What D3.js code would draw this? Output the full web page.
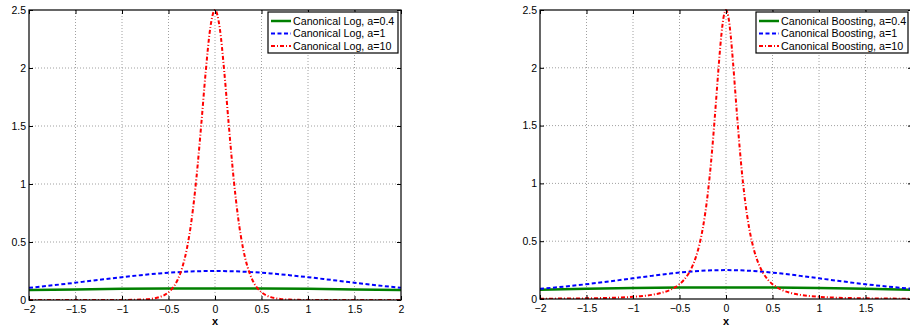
<!DOCTYPE html>
<html>
<head>
<meta charset="utf-8">
<script src="https://cdn.jsdelivr.net/npm/d3@7/dist/d3.min.js"></script>
<style>
body { margin: 0; background: #fff; }
svg { display: block; font-family: "Liberation Sans", Arial, sans-serif; }
.tick text { font-size: 10.5px; fill: #000; }
.tick line { stroke: #000; }
</style>
</head>
<body>
<div id="chart"></div>
<script>
// values
var xTicks = [-2, -1.5, -1, -0.5, 0, 0.5, 1, 1.5, 2];
var yTicks = [0, 0.5, 1, 1.5, 2, 2.5];

var smallX = [-2, -1.5, -1, -0.5, 0, 0.5, 1, 1.5, 2];
var midX = [-2, -1.8, -1.6, -1.4, -1.2, -1, -0.8, -0.6, -0.4, -0.2, 0, 0.2, 0.4, 0.6, 0.8, 1, 1.2, 1.4, 1.6, 1.8, 2];

var logGreen = [0.0856, 0.0915, 0.0961, 0.0990, 0.1, 0.0990, 0.0961, 0.0915, 0.0856];
var logBlue = [0.1050, 0.1217, 0.1398, 0.1587, 0.1779, 0.1966, 0.2139, 0.2288, 0.2403, 0.2475, 0.25,
    0.2475, 0.2403, 0.2288, 0.2139, 0.1966, 0.1779, 0.1587, 0.1398, 0.1217, 0.1050];
var logRedX = [-2, -1.5, -1.2, -1, -0.9, -0.8, -0.7, -0.6, -0.55, -0.5, -0.45, -0.4, -0.35, -0.3, -0.25, -0.2, -0.15, -0.1, -0.05, 0,
    0.05, 0.1, 0.15, 0.2, 0.25, 0.3, 0.35, 0.4, 0.45, 0.5, 0.55, 0.6, 0.7, 0.8, 0.9, 1, 1.2, 1.5, 2];
var logRed = [0, 0, 0.0001, 0.0005, 0.0012, 0.0034, 0.0091, 0.0247, 0.0405, 0.0665, 0.1087, 0.1766, 0.2845, 0.4518, 0.7010, 1.0500, 1.4915, 1.9660, 2.3500, 2.5,
    2.3500, 1.9660, 1.4915, 1.0500, 0.7010, 0.4518, 0.2845, 0.1766, 0.1087, 0.0665, 0.0405, 0.0247, 0.0091, 0.0034, 0.0012, 0.0005, 0.0001, 0, 0];

var boostGreen = [0.0800, 0.0879, 0.0943, 0.0985, 0.1, 0.0985, 0.0943, 0.0879, 0.0800];
var boostBlue = [0.0884, 0.1027, 0.1190, 0.1375, 0.1576, 0.1789, 0.2001, 0.2197, 0.2357, 0.2463, 0.25,
    0.2463, 0.2357, 0.2197, 0.2001, 0.1789, 0.1576, 0.1375, 0.1190, 0.1027, 0.0884];
var boostRedX = [-2, -1.8, -1.6, -1.4, -1.2, -1, -0.9, -0.8, -0.7, -0.6, -0.5, -0.45, -0.4, -0.35, -0.3, -0.25, -0.2,
    -0.175, -0.15, -0.125, -0.1, -0.075, -0.05, -0.025, 0, 0.025, 0.05, 0.075, 0.1, 0.125, 0.15, 0.175,
    0.2, 0.25, 0.3, 0.35, 0.4, 0.45, 0.5, 0.6, 0.7, 0.8, 0.9, 1, 1.2, 1.4, 1.6, 1.8, 2];
var boostRed = [0.0025, 0.0034, 0.0048, 0.0069, 0.0111, 0.0189, 0.0255, 0.0357, 0.0518, 0.0791, 0.1281, 0.1675, 0.2236, 0.3053, 0.4267, 0.6095, 0.8839,
    1.0656, 1.2800, 1.5245, 1.7889, 2.0522, 2.2827, 2.4425, 2.5, 2.4425, 2.2827, 2.0522, 1.7889, 1.5245, 1.2800, 1.0656,
    0.8839, 0.6095, 0.4267, 0.3053, 0.2236, 0.1675, 0.1281, 0.0791, 0.0518, 0.0357, 0.0255, 0.0189, 0.0111, 0.0069, 0.0048, 0.0034, 0.0025];

var logLabels = ["Canonical Log, a=0.4", "Canonical Log, a=1", "Canonical Log, a=10"];
var boostLabels = ["Canonical Boosting, a=0.4", "Canonical Boosting, a=1", "Canonical Boosting, a=10"];

var styles = [
    {color: "#008000", width: 2.5, dash: null},
    {color: "#0000ff", width: 2, dash: "4,2.5"},
    {color: "#ff0000", width: 2, dash: "4,2,1,2"}
];

var svg = d3.select("#chart").append("svg")
    .attr("width", 910)
    .attr("height", 328);

var drawPanel = function(id, box, series, labels, legendBox, xLabelTicks) {
    var x = d3.scaleLinear().domain([-2, 2]).range([box.left, box.right]);
    var y = d3.scaleLinear().domain([0, 2.5]).range([box.bottom, box.top]);
    var fmt = d3.format("~g");

    var g = svg.append("g").attr("id", id);

    // dotted grid
    g.append("g").selectAll("line").data(xTicks.slice(1, -1)).enter().append("line")
        .attr("x1", function(d) { return x(d); }).attr("x2", function(d) { return x(d); })
        .attr("y1", box.top).attr("y2", box.bottom)
        .attr("stroke", "#a0a0a0").attr("stroke-dasharray", "1,2").attr("stroke-width", 1);
    g.append("g").selectAll("line").data(yTicks.slice(1, -1)).enter().append("line")
        .attr("y1", function(d) { return y(d); }).attr("y2", function(d) { return y(d); })
        .attr("x1", box.left).attr("x2", box.right)
        .attr("stroke", "#a0a0a0").attr("stroke-dasharray", "1,2").attr("stroke-width", 1);

    var clipId = id + "-clip";
    g.append("clipPath").attr("id", clipId).append("rect")
        .attr("x", box.left).attr("y", box.top - 1)
        .attr("width", box.right - box.left).attr("height", box.bottom - box.top + 1);

    var line = d3.line()
        .x(function(d) { return x(d[0]); })
        .y(function(d) { return y(d[1]); })
        .curve(d3.curveMonotoneX);

    var lines = g.append("g").attr("clip-path", "url(#" + clipId + ")");
    series.forEach(function(s, i) {
        lines.append("path")
            .attr("d", line(d3.zip(s.x, s.y)))
            .attr("fill", "none")
            .attr("stroke", styles[i].color)
            .attr("stroke-width", styles[i].width)
            .attr("stroke-dasharray", styles[i].dash);
    });

    // axes with inward ticks
    g.append("g").attr("transform", "translate(0," + box.bottom + ")")
        .call(d3.axisBottom(x).tickValues(xTicks).tickSize(-4).tickPadding(6)
            .tickFormat(function(d) { return xLabelTicks.indexOf(d) >= 0 ? fmt(d) : ""; }))
        .call(function(a) { a.select(".domain").remove(); });
    g.append("g").attr("transform", "translate(0," + box.top + ")")
        .call(d3.axisTop(x).tickValues(xTicks).tickSize(-4).tickFormat(""))
        .call(function(a) { a.select(".domain").remove(); });
    g.append("g").attr("transform", "translate(" + box.left + ",0)")
        .call(d3.axisLeft(y).tickValues(yTicks).tickSize(-4).tickPadding(3).tickFormat(fmt))
        .call(function(a) { a.select(".domain").remove(); });
    g.append("g").attr("transform", "translate(" + box.right + ",0)")
        .call(d3.axisRight(y).tickValues(yTicks).tickSize(-4).tickFormat(""))
        .call(function(a) { a.select(".domain").remove(); });
    g.selectAll(".tick text").attr("font-family", null).attr("font-size", null);

    g.append("rect")
        .attr("x", box.left).attr("y", box.top)
        .attr("width", box.right - box.left).attr("height", box.bottom - box.top)
        .attr("fill", "none").attr("stroke", "#000").attr("stroke-width", 1.2);

    g.append("text")
        .attr("x", x(0)).attr("y", 325)
        .attr("text-anchor", "middle")
        .attr("font-size", "11px").attr("font-weight", "bold")
        .text("x");

    // legend
    var lg = g.append("g");
    lg.append("rect")
        .attr("x", legendBox.x).attr("y", legendBox.y)
        .attr("width", legendBox.w).attr("height", legendBox.h)
        .attr("fill", "#fff").attr("stroke", "#000").attr("stroke-width", 1.2);
    labels.forEach(function(t, i) {
        var cy = legendBox.y + 9 + i * 12.5;
        lg.append("line")
            .attr("x1", legendBox.x + 3).attr("x2", legendBox.x + 23)
            .attr("y1", cy).attr("y2", cy)
            .attr("stroke", styles[i].color)
            .attr("stroke-width", styles[i].width)
            .attr("stroke-dasharray", styles[i].dash);
        lg.append("text")
            .attr("x", legendBox.x + 25).attr("y", cy)
            .attr("dy", "0.36em")
            .attr("font-size", "10.7px")
            .text(t);
    });
};

drawPanel("left", {left: 29, right: 401, top: 10, bottom: 300},
    [{x: smallX, y: logGreen}, {x: midX, y: logBlue}, {x: logRedX, y: logRed}],
    logLabels, {x: 268, y: 12, w: 130, h: 41}, xTicks);

// the right panel runs past the window edge, so its last label is not visible
drawPanel("right", {left: 540, right: 912, top: 10, bottom: 299},
    [{x: smallX, y: boostGreen}, {x: midX, y: boostBlue}, {x: boostRedX, y: boostRed}],
    boostLabels, {x: 756, y: 12, w: 152, h: 41}, xTicks.slice(0, -1));
</script>
</body>
</html>
